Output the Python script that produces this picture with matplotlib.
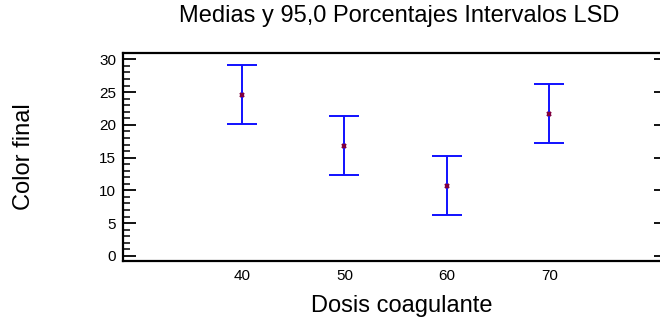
import numpy as np
import matplotlib.pyplot as plt
from matplotlib.ticker import MultipleLocator

plt.rcParams['font.family'] = ['Liberation Sans', 'DejaVu Sans']

# medias por dosis y limites de los intervalos LSD
dosis = [40, 50, 60, 70]
medias = [24.6, 16.8, 10.7, 21.7]
inferior = [20.1, 12.3, 6.2, 17.3]
superior = [29.1, 21.3, 15.2, 26.2]

fig = plt.figure(figsize=(6.6, 3.2), dpi=100)
ax = fig.add_axes([0.1864, 0.184, 0.8136, 0.651])

media = np.array(medias)
err = [media - np.array(inferior), np.array(superior) - media]
ax.errorbar(dosis, medias, yerr=err, fmt='none', ecolor='#1010ff',
            elinewidth=1.4, capsize=11, capthick=1.4)
ax.plot(dosis, medias, linestyle='none', marker='x', markersize=3.5,
        mew=1.6, color='#800040')

ax.set_xlim(28.4, 80.8)
ax.set_ylim(-0.8, 31)
ax.set_xticks(dosis)
ax.yaxis.set_major_locator(MultipleLocator(5))
ax.yaxis.set_minor_locator(MultipleLocator(1))

ax.spines['right'].set_visible(False)
for s in ['left', 'top', 'bottom']:
    ax.spines[s].set_linewidth(1.6)

ax.tick_params(axis='x', length=0, labelsize=11, pad=6)
ax.tick_params(axis='y', which='major', direction='in', length=9,
               width=1.3, labelsize=11, pad=5)
ax.tick_params(axis='y', which='minor', direction='in', length=5,
               width=1.1)

# marcas cortas en el borde derecho
ax2 = ax.twinx()
ax2.set_ylim(ax.get_ylim())
ax2.yaxis.set_major_locator(MultipleLocator(5))
ax2.tick_params(axis='y', direction='in', length=4, width=1.3,
                labelright=False)
for s in ax2.spines.values():
    s.set_visible(False)

fig.text(0.605, 0.95, 'Medias y 95,0 Porcentajes Intervalos LSD',
         ha='center', va='center', fontsize=17)
fig.text(0.609, 0.045, 'Dosis coagulante', ha='center', va='center',
         fontsize=17)
fig.text(0.036, 0.51, 'Color final', ha='center', va='center',
         rotation=90, fontsize=17)

fig.savefig('out.png', dpi=100)
